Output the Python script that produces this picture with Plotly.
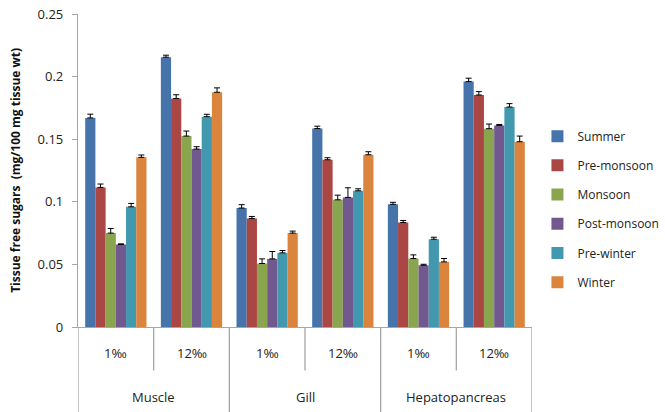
import plotly.graph_objects as go

# Tissues and salinity levels forming the six bar groups
tissues = ["Muscle", "Gill", "Hepatopancreas"]
salinities = ["1‰", "12‰"]
groups = [f"{t} {s}" for t in tissues for s in salinities]

seasons = ["Summer", "Pre-monsoon", "Monsoon", "Post-monsoon", "Pre-winter", "Winter"]
colors = ["#4674AA", "#AA4643", "#89A54E", "#71588F", "#4198AF", "#DB843D"]

# Tissue free sugars (mg/100 mg tissue wt), per season, across the six groups
summer = [0.167, 0.2155, 0.095, 0.1585, 0.098, 0.196]
pre_monsoon = [0.1115, 0.1825, 0.0867, 0.1336, 0.0835, 0.1853]
monsoon = [0.075, 0.1525, 0.0507, 0.1016, 0.0547, 0.1584]
post_monsoon = [0.0659, 0.1421, 0.0544, 0.1035, 0.0493, 0.161]
pre_winter = [0.096, 0.168, 0.0592, 0.1088, 0.0701, 0.1757]
winter = [0.1355, 0.1875, 0.075, 0.1376, 0.052, 0.148]

# Standard errors
summer_err = [0.003, 0.0016, 0.0027, 0.0019, 0.0016, 0.0027]
pre_monsoon_err = [0.0027, 0.003, 0.0016, 0.0016, 0.0016, 0.0027]
monsoon_err = [0.0037, 0.004, 0.0037, 0.0037, 0.0029, 0.0037]
post_monsoon_err = [0.0005, 0.0019, 0.0059, 0.0077, 0.0008, 0.0008]
pre_winter_err = [0.0027, 0.0019, 0.0019, 0.0016, 0.0016, 0.0027]
winter_err = [0.0019, 0.0035, 0.0016, 0.0024, 0.0027, 0.0045]

series = [summer, pre_monsoon, monsoon, post_monsoon, pre_winter, winter]
errors = [summer_err, pre_monsoon_err, monsoon_err, post_monsoon_err, pre_winter_err, winter_err]

FONT = "Open Sans"

fig = go.Figure()
for name, vals, err, col in zip(seasons, series, errors, colors):
    fig.add_trace(go.Bar(
        x=groups, y=vals, name=name, legendgroup=name,
        marker=dict(color=col, line=dict(width=0)),
        error_y=dict(type="data", array=err, arrayminus=[0] * len(err),
                     symmetric=False, color="black", thickness=1, width=3),
    ))

# Category labels and divider lines below the axis
shapes = []
annotations = []
n = len(groups)
for k in range(n + 1):
    outer = (k % 2 == 0)
    shapes.append(dict(type="line", xref="x", yref="paper",
                       x0=k - 0.5, x1=k - 0.5, y0=0, y1=-0.30 if outer else -0.139,
                       line=dict(color="#A6A6A6", width=1.3)))
for k, g in enumerate(groups):
    annotations.append(dict(x=k, y=-0.084, xref="x", yref="paper",
                            xanchor="center", yanchor="middle",
                            text=salinities[k % 2], showarrow=False,
                            font=dict(family=FONT, size=13, color="#222")))
for j, t in enumerate(tissues):
    annotations.append(dict(x=2 * j + 0.5, y=-0.225, xref="x", yref="paper",
                            xanchor="center", yanchor="middle",
                            text=t, showarrow=False,
                            font=dict(family=FONT, size=13, color="#222")))
annotations.append(dict(x=-0.138, y=0.5, xref="paper", yref="paper",
                        xanchor="center", yanchor="middle",
                        text="<b>Tissue free sugars  (mg/100 mg tissue wt)</b>",
                        textangle=-90, showarrow=False,
                        font=dict(family=FONT, size=12, color="#111")))

fig.update_layout(
    width=665, height=412,
    margin=dict(l=78, r=133, t=14, b=85, autoexpand=False),
    plot_bgcolor="white", paper_bgcolor="white",
    barmode="group", bargap=0.19, bargroupgap=0,
    font=dict(family=FONT, size=13, color="#222"),
    shapes=shapes, annotations=annotations,
    legend=dict(x=1.012, xanchor="left", y=0.656, yanchor="top",
                tracegroupgap=10.2, traceorder="grouped",
                font=dict(family=FONT, size=12, color="#222")),
    xaxis=dict(range=[-0.5, n - 0.5], showticklabels=False, ticks="",
               showline=True, linecolor="#A6A6A6", linewidth=1.3,
               showgrid=False, zeroline=False, fixedrange=True, automargin=False),
    yaxis=dict(range=[0, 0.25], tickvals=[0, 0.05, 0.1, 0.15, 0.2, 0.25],
               ticktext=["0", "0.05", "0.1", "0.15", "0.2", "0.25"],
               ticks="outside", ticklen=5, tickcolor="#A6A6A6",
               showline=True, linecolor="#A6A6A6", linewidth=1.3,
               showgrid=False, zeroline=False, ticklabelstandoff=6, automargin=False,
               tickfont=dict(family=FONT, size=13, color="#222")),
)

fig.write_html("out.html")
